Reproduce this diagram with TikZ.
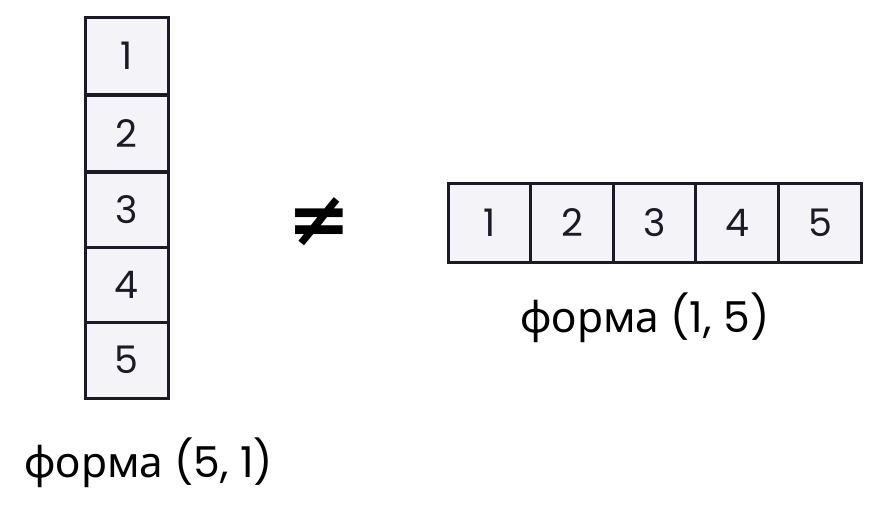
\documentclass[tikz,border=0pt]{standalone}
\usepackage{fontspec}
\setmainfont{Poppins}
\newfontfamily\cyr{Noto Sans}
\newfontfamily\sym{DejaVu Sans}
\definecolor{cellfill}{HTML}{F4F4F8}
\definecolor{ink}{HTML}{1B1B27}
\begin{document}
\begin{tikzpicture}[x=1pt,y=-1pt,
  cell/.style={draw=ink,fill=cellfill,line width=3pt,minimum width=83pt,minimum height=77pt,inner sep=0pt,font=\fontsize{38}{40}\selectfont,text=ink},
  hcell/.style={cell,minimum width=82.6pt,minimum height=79pt},
  lbl/.style={font=\fontsize{42.5}{46}\selectfont,text=black,inner sep=0pt}]
\useasboundingbox (0,0) rectangle (878,508);
\fill[white] (0,0) rectangle (878,508);
% vertical column
\node[cell] (v1) at (126.5,56) {1};
\node[cell,minimum height=76pt] (v2) at (126.5,133.5) {2};
\node[cell,minimum height=75pt] (v3) at (126.5,209.5) {3};
\node[cell,minimum height=75pt] (v4) at (126.5,284.5) {4};
\node[cell,minimum height=76pt] (v5) at (126.5,360) {5};
% horizontal row
\node[hcell] (h1) at (490,222.5) {1};
\node[hcell] (h2) at (572,222.5) {2};
\node[hcell] (h3) at (654.5,222.5) {3};
\node[hcell] (h4) at (737,222.5) {4};
\node[hcell] (h5) at (820,222.5) {5};
% not equal
\node[font=\sym\bfseries\fontsize{76}{76}\selectfont,inner sep=0pt] (ne) at (319,222) {≠};
% labels
\node[lbl] (l1) at (149,463) {{\cyr форма} (5, 1)};
\node[lbl] (l2) at (645,318) {{\cyr форма} (1, 5)};
\end{tikzpicture}
\end{document}
